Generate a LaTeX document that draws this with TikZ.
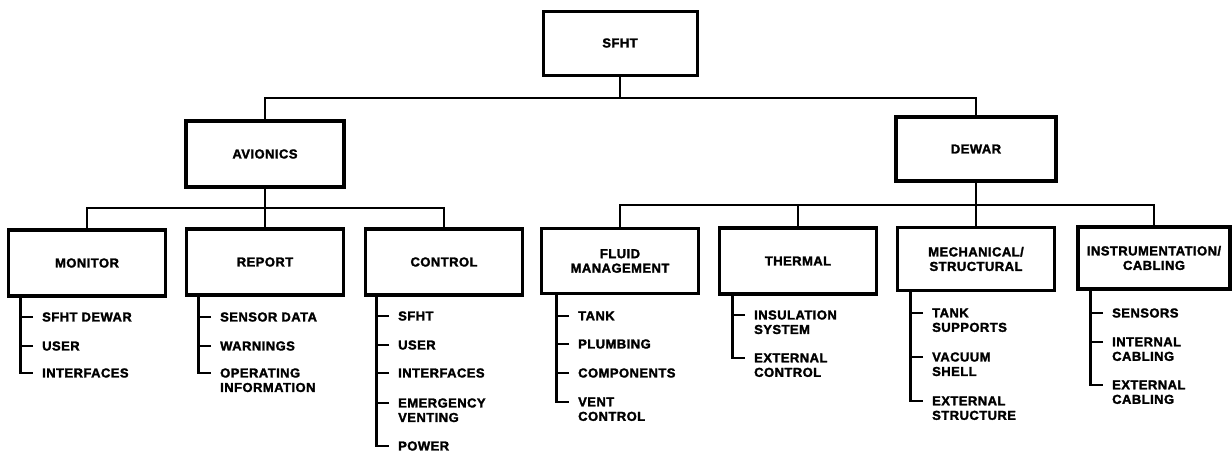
\documentclass[tikz,border=0pt]{standalone}
\usepackage{fontspec}
\newfontfamily\lab[LetterSpace=3.5,FakeBold=2]{Liberation Sans Bold}
\newcommand\labfont{\lab\fontsize{13}{14.5}\selectfont}
\tikzset{
  box/.style={draw, line width=3.4pt, inner sep=0pt, align=center, font=\labfont},
  lvl/.style={box, minimum width=157pt, minimum height=66pt},
  conn/.style={line width=2.2pt},
  item/.style={anchor=north west, inner sep=0pt, align=left, font=\labfont, yshift=4.8pt}
}
\begin{document}
\begin{tikzpicture}[x=1pt,y=-1pt]
\useasboundingbox (0,0) rectangle (1232,453);
% boxes
\node[box, line width=3pt, minimum width=154pt, minimum height=64pt] (sfht) at (620,43) {SFHT};
\node[box, minimum width=158pt, minimum height=66pt] (avi) at (265,154) {AVIONICS};
\node[box, minimum width=160pt, minimum height=64pt] (dew) at (976,149) {DEWAR};
\node[lvl] (mon) at (87,263) {MONITOR};
\node[lvl] (rep) at (265,262) {REPORT};
\node[lvl] (con) at (444,262) {CONTROL};
\node[lvl, minimum height=65pt] (flu) at (620,261) {FLUID\\MANAGEMENT};
\node[lvl] (the) at (798,261) {THERMAL};
\node[lvl, minimum height=63pt] (mec) at (976,259) {MECHANICAL/\\STRUCTURAL};
\node[lvl, minimum width=152pt, minimum height=62pt] (ins) at (1154,258) {INSTRUMENTATION/\\CABLING};
% tree connectors
\coordinate (j1) at (620,98);
\draw[conn] (sfht.south) -- (j1);
\draw[conn] (avi.north) |- (j1) -| (dew.north);
\coordinate (j2) at (265,208);
\draw[conn] (avi.south) -- (j2);
\draw[conn] (mon.north) |- (j2) -| (con.north);
\draw[conn] (rep.north) -- (j2);
\coordinate (j3) at (976,205);
\draw[conn] (dew.south) -- (j3);
\draw[conn] (flu.north) |- (j3) -| (ins.north);
\draw[conn] (the.north) -- (the.north |- j3);
\draw[conn] (mec.north) -- (j3);
% MONITOR list
\node[item] (m1) at (42,317) {SFHT DEWAR};
\node[item] (m2) at (42,346) {USER};
\node[item] (m3) at (42,373) {INTERFACES};
\coordinate (mv) at ([xshift=-21.5pt]m1.north west);
\draw[conn] (mon.south -| mv) |- ([xshift=-9pt,yshift=-4.8pt]m3.north west);
\draw[conn] ([xshift=-9pt,yshift=-4.8pt]m1.north west) -- ++(-12.5pt,0);
\draw[conn] ([xshift=-9pt,yshift=-4.8pt]m2.north west) -- ++(-12.5pt,0);
% REPORT list
\node[item] (r1) at (220,317) {SENSOR DATA};
\node[item] (r2) at (220,346) {WARNINGS};
\node[item] (r3) at (220,373) {OPERATING\\INFORMATION};
\coordinate (rv) at ([xshift=-21.5pt]r1.north west);
\draw[conn] (rep.south -| rv) |- ([xshift=-9pt,yshift=-4.8pt]r3.north west);
\draw[conn] ([xshift=-9pt,yshift=-4.8pt]r1.north west) -- ++(-12.5pt,0);
\draw[conn] ([xshift=-9pt,yshift=-4.8pt]r2.north west) -- ++(-12.5pt,0);
% CONTROL list
\node[item] (c1) at (398,316) {SFHT};
\node[item] (c2) at (398,345) {USER};
\node[item] (c3) at (398,373) {INTERFACES};
\node[item] (c4) at (398,403) {EMERGENCY\\VENTING};
\node[item] (c5) at (398,446) {POWER};
\coordinate (cv) at ([xshift=-21.5pt]c1.north west);
\draw[conn] (con.south -| cv) |- ([xshift=-9pt,yshift=-4.8pt]c5.north west);
\draw[conn] ([xshift=-9pt,yshift=-4.8pt]c1.north west) -- ++(-12.5pt,0);
\draw[conn] ([xshift=-9pt,yshift=-4.8pt]c2.north west) -- ++(-12.5pt,0);
\draw[conn] ([xshift=-9pt,yshift=-4.8pt]c3.north west) -- ++(-12.5pt,0);
\draw[conn] ([xshift=-9pt,yshift=-4.8pt]c4.north west) -- ++(-12.5pt,0);
% FLUID list
\node[item] (f1) at (578,316) {TANK};
\node[item] (f2) at (578,344) {PLUMBING};
\node[item] (f3) at (578,373) {COMPONENTS};
\node[item] (f4) at (578,402) {VENT\\CONTROL};
\coordinate (fv) at ([xshift=-21.5pt]f1.north west);
\draw[conn] (flu.south -| fv) |- ([xshift=-9pt,yshift=-4.8pt]f4.north west);
\draw[conn] ([xshift=-9pt,yshift=-4.8pt]f1.north west) -- ++(-12.5pt,0);
\draw[conn] ([xshift=-9pt,yshift=-4.8pt]f2.north west) -- ++(-12.5pt,0);
\draw[conn] ([xshift=-9pt,yshift=-4.8pt]f3.north west) -- ++(-12.5pt,0);
% THERMAL list
\node[item] (t1) at (754,315) {INSULATION\\SYSTEM};
\node[item] (t2) at (754,358) {EXTERNAL\\CONTROL};
\coordinate (tv) at ([xshift=-21.5pt]t1.north west);
\draw[conn] (the.south -| tv) |- ([xshift=-9pt,yshift=-4.8pt]t2.north west);
\draw[conn] ([xshift=-9pt,yshift=-4.8pt]t1.north west) -- ++(-12.5pt,0);
% MECHANICAL list
\node[item] (s1) at (932,313) {TANK\\SUPPORTS};
\node[item] (s2) at (932,357) {VACUUM\\SHELL};
\node[item] (s3) at (932,401) {EXTERNAL\\STRUCTURE};
\coordinate (sv) at ([xshift=-21.5pt]s1.north west);
\draw[conn] (mec.south -| sv) |- ([xshift=-9pt,yshift=-4.8pt]s3.north west);
\draw[conn] ([xshift=-9pt,yshift=-4.8pt]s1.north west) -- ++(-12.5pt,0);
\draw[conn] ([xshift=-9pt,yshift=-4.8pt]s2.north west) -- ++(-12.5pt,0);
% INSTRUMENTATION list
\node[item] (n1) at (1112,313) {SENSORS};
\node[item] (n2) at (1112,342) {INTERNAL\\CABLING};
\node[item] (n3) at (1112,385) {EXTERNAL\\CABLING};
\coordinate (nv) at ([xshift=-21.5pt]n1.north west);
\draw[conn] (ins.south -| nv) |- ([xshift=-9pt,yshift=-4.8pt]n3.north west);
\draw[conn] ([xshift=-9pt,yshift=-4.8pt]n1.north west) -- ++(-12.5pt,0);
\draw[conn] ([xshift=-9pt,yshift=-4.8pt]n2.north west) -- ++(-12.5pt,0);
\end{tikzpicture}
\end{document}
